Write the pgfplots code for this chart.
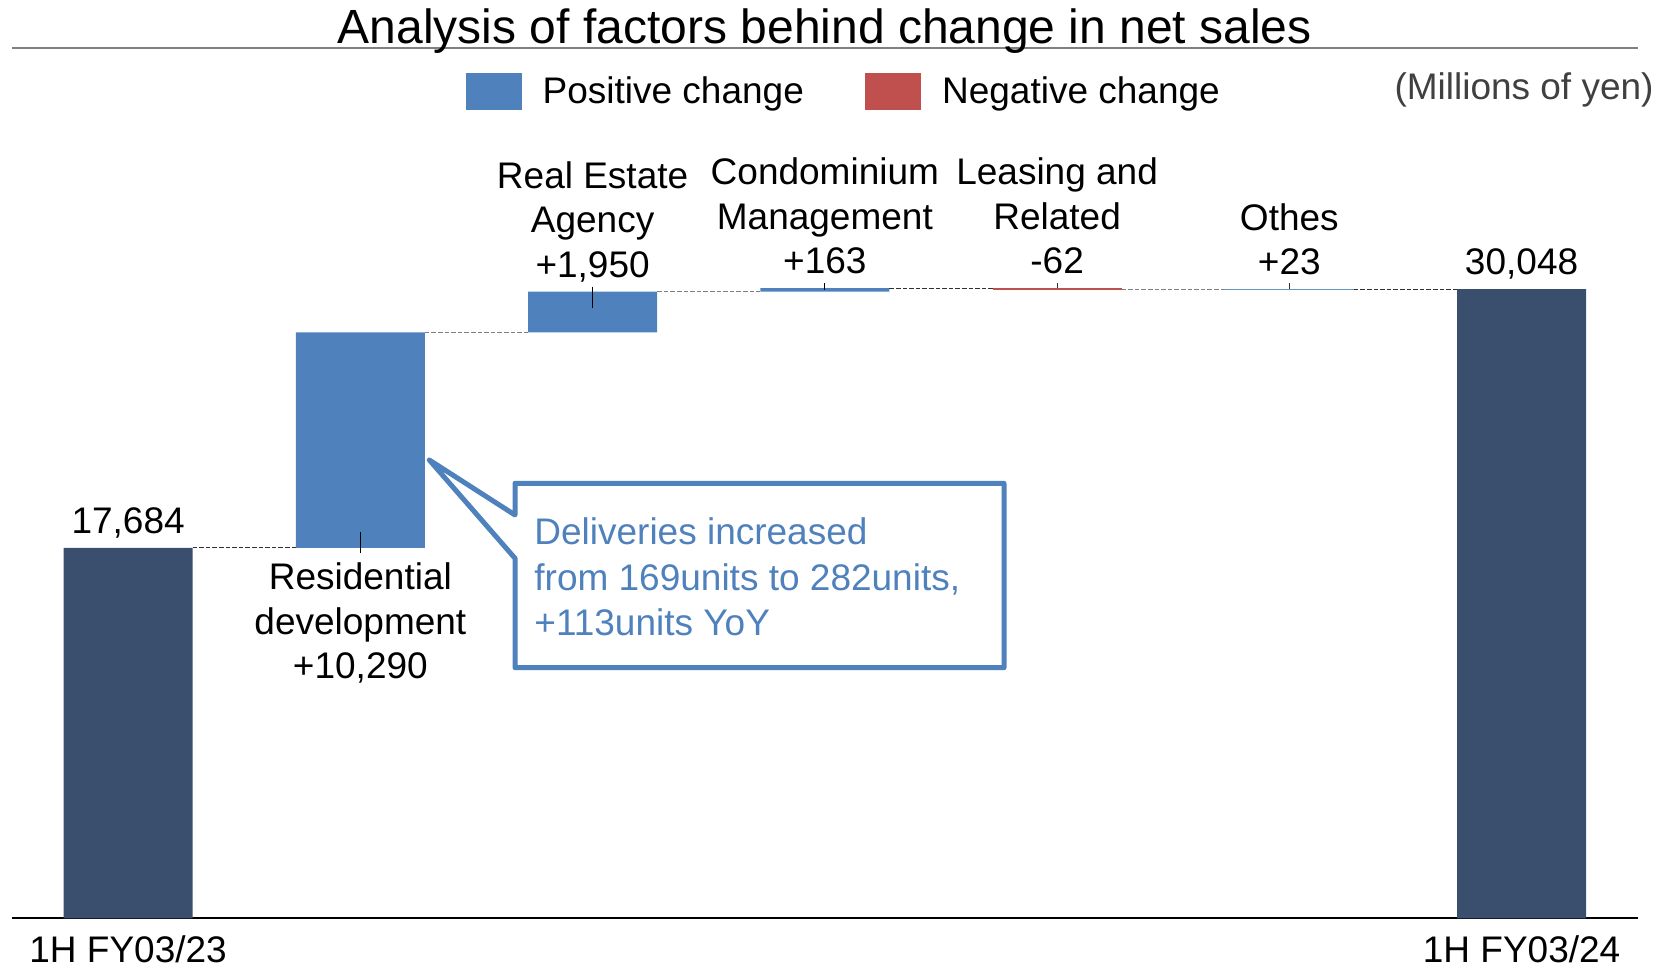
\documentclass[border=0pt]{standalone}
\usepackage{pgfplots}
\pgfplotsset{compat=1.18}
\usepackage{fontspec}
\setmainfont{Liberation Sans}
\definecolor{totc}{HTML}{3A4F6E}
\definecolor{posc}{HTML}{4F81BD}
\definecolor{negc}{HTML}{C0504D}
\definecolor{connl}{HTML}{808080}
\definecolor{connd}{HTML}{303030}
\definecolor{mil}{HTML}{404040}
\newcommand{\lf}{\fontsize{18.5}{22}\selectfont}
\tikzset{lbl/.style={anchor=base, inner sep=0pt, font=\lf}}
\begin{document}
\begin{tikzpicture}
\path[use as bounding box] (-6pt,-25.85pt) rectangle (825pt,459.15pt);
\pgfplotsset{
  common/.style={
    width=812.85pt, height=435pt, scale only axis,
    xmin=-0.5, xmax=6.5, ymin=0, ymax=41543,
    anchor=south west, at={(0pt,0pt)},
  },
  conn/.style={line width=0.5pt, dash pattern=on 2.3pt off 1pt, forget plot},
}
% ---------------- bars ----------------
\begin{axis}[common,
  ybar stacked, bar width=0.5556,
  axis y line=none,
  axis x line*=bottom,
  x axis line style={black, line width=1pt, -},
  xtick={0,6}, xticklabels={1H FY03/23, 1H FY03/24},
  xtick style={draw=none},
  major tick length=0pt,
  xticklabel style={anchor=base, yshift=-22.3pt, font=\lf},
  ytick=\empty,
]
\addplot[draw=none, fill=none] coordinates {(0,0) (1,17684) (2,27974) (3,29924) (4,30025) (5,30025) (6,0)};
\addplot[draw=none, fill=totc] coordinates {(0,17684) (1,0) (2,0) (3,0) (4,0) (5,0) (6,30048)};
\addplot[draw=none, fill=posc] coordinates {(0,0) (1,10290) (2,1950) (3,163) (4,0) (5,23) (6,0)};
\addplot[draw=none, fill=negc] coordinates {(0,0) (1,0) (2,0) (3,0) (4,62) (5,0) (6,0)};
\end{axis}
% ---------------- overlay: connectors, leaders, labels, legend ----------------
\begin{axis}[common, hide axis, clip=false,
  legend columns=2,
  legend image code/.code={\fill[#1] (0pt,-9.3pt) rectangle (27.85pt,9.3pt);},
  legend style={draw=none, fill=none, inner sep=0pt, outer sep=0pt,
    at={(axis description cs:0.27926,0.9506)}, anchor=west,
    font=\lf, column sep=10.5pt,
    nodes={inner sep=0pt},
    /tikz/every even column/.append style={column sep=30.75pt}},
]
\addlegendimage{fill=posc, draw=none}
\addlegendentry{Positive change}
\addlegendimage{fill=negc, draw=none}
\addlegendentry{Negative change}
% connectors
\addplot[conn, connd] coordinates {(0.2778,17684) (0.7222,17684)};
\addplot[conn, connl] coordinates {(1.2778,27974) (1.7222,27974)};
\addplot[conn, connl] coordinates {(2.2778,29924) (2.7222,29924)};
\addplot[conn, connd] coordinates {(3.2778,30087) (3.7222,30087)};
\addplot[conn, connl] coordinates {(4.2778,30025) (4.7222,30025)};
\addplot[conn, connd] coordinates {(5.2778,30048) (5.7222,30048)};
% thin +23 bar made visible
\addplot[posc!85, line width=0.7pt, forget plot] coordinates {(4.7222,30036) (5.2778,30036)};
% leader ticks
\addplot[black, line width=0.5pt, forget plot] coordinates {(1,18462) (1,17431)};
\addplot[black, line width=0.5pt, forget plot] coordinates {(2,30163) (2,29160)};
\addplot[black, line width=0.5pt, forget plot] coordinates {(3,30326) (3,30006)};
\addplot[connd, line width=0.5pt, forget plot] coordinates {(4,30326) (4,30087)};
\addplot[connd, line width=0.5pt, forget plot] coordinates {(5,30325) (5,30048)};
% title and rule
\draw[connl, line width=1pt] (rel axis cs:0,1) -- (rel axis cs:1,1);
\node[anchor=base, inner sep=0pt, font=\fontsize{24}{28}\selectfont] at (rel axis cs:0.5,1) [yshift=2.3pt] {Analysis of factors behind change in net sales};
\node[anchor=base east, inner sep=0pt, font=\lf, text=mil] at (rel axis cs:1,1) [xshift=8.15pt, yshift=-25.5pt] {(Millions of yen)};
% value labels
\node[lbl, yshift=7.3pt] at (axis cs:0,17684) {17,684};
\node[lbl, yshift=-21pt] at (axis cs:1,17684) {Residential};
\node[lbl, yshift=-43.2pt] at (axis cs:1,17684) {development};
\node[lbl, yshift=-65.4pt] at (axis cs:1,17684) {+10,290};
\node[lbl, yshift=51.7pt] at (axis cs:2,29924) {Real Estate};
\node[lbl, yshift=29.5pt] at (axis cs:2,29924) {Agency};
\node[lbl, yshift=7.3pt] at (axis cs:2,29924) {+1,950};
\node[lbl, yshift=51.7pt] at (axis cs:3,30087) {Condominium};
\node[lbl, yshift=29.5pt] at (axis cs:3,30087) {Management};
\node[lbl, yshift=7.3pt] at (axis cs:3,30087) {+163};
\node[lbl, yshift=51.7pt] at (axis cs:4,30087) {Leasing and};
\node[lbl, yshift=29.5pt] at (axis cs:4,30087) {Related};
\node[lbl, yshift=7.3pt] at (axis cs:4,30087) {-62};
\node[lbl, yshift=29.5pt] at (axis cs:5,30048) {Othes};
\node[lbl, yshift=7.3pt] at (axis cs:5,30048) {+23};
\node[lbl, yshift=7.3pt] at (axis cs:6,30048) {30,048};
\end{axis}
% ---------------- callout ----------------
\draw[posc, line width=2.5pt, fill=white, line join=round]
  (251.5pt,217.5pt) -- (496pt,217.5pt) -- (496pt,125.3pt) -- (251.5pt,125.3pt)
  -- (251.5pt,180pt) -- (208.65pt,229.15pt) -- (251.5pt,201.65pt) -- cycle;
\node[anchor=base west, inner sep=0pt, font=\lf, text=posc] at (261pt,186.7pt) {Deliveries increased};
\node[anchor=base west, inner sep=0pt, font=\lf, text=posc] at (261pt,164pt) {from 169units to 282units,};
\node[anchor=base west, inner sep=0pt, font=\lf, text=posc] at (261pt,141.3pt) {+113units YoY};
\end{tikzpicture}
\end{document}
